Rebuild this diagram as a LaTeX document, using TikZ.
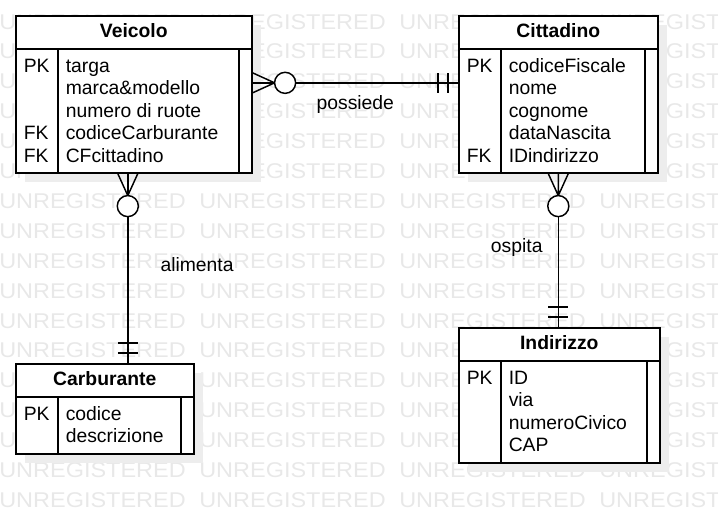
\documentclass[tikz,border=0pt]{standalone}
\usepackage{fontspec}
\setmainfont{Liberation Sans}
\usetikzlibrary{calc}

\tikzset{
  entitybox/.style={draw=black, line width=1.2pt, fill=white, inner sep=0pt, anchor=north west},
  entityline/.style={draw=black, line width=1.2pt},
  shadowbox/.style={fill=black!7},
  rel/.style={draw=black, line width=1.1pt},
  rellabel/.style={inner sep=0pt},
  watermark/.style={font=\fontsize{16pt}{18pt}\selectfont, text=black!9, inner sep=0pt,
    anchor=west, xscale=1.1, transform shape},
  zeromany/.pic={
    \draw[rel] (0,-10) -- (22,0) -- (0,10) (0,0) -- (22,0);
    \draw[rel, fill=white] (32.5,0) circle[radius=7.9pt];
  },
  onlyone/.pic={
    \draw[rel] (10,-10) -- (10,10) (20,-10) -- (20,10);
  }
}

% #1 name, #2 corner, #3 width, #4 height, #5 title, #6 key/attribute rows
\newcommand{\erentity}[6]{%
  \fill[shadowbox] ($(#2)+(10,10)$) rectangle ++(#3,#4);
  \node[entitybox, minimum width=#3*0.75pt, minimum height=#4*0.75pt] (#1) at (#2) {};
  \draw[entityline] ($(#1.north west)+(0,34)$) -- ($(#1.north east)+(0,34)$);
  \draw[entityline] ($(#1.north west)+(43,34)$) -- ($(#1.south west)+(43,0)$);
  \draw[entityline] ($(#1.north east)+(-13.5,34)$) -- ($(#1.south east)+(-13.5,0)$);
  \node[anchor=base, inner sep=0pt] at ($(#1.north)+(0,22)$) {\textbf{#5}};
  \foreach \k/\a [count=\i from 0] in {#6} {
    \node[anchor=base west, inner sep=0pt] at ($(#1.north west)+(8.5,57+22.5*\i)$) {\k};
    \node[anchor=base west, inner sep=0pt] at ($(#1.north west)+(50.5,57+22.5*\i)$) {\a};
  }
}

\begin{document}
\begin{tikzpicture}[x=0.75pt, y=-0.75pt, font=\fontsize{14.5pt}{17pt}\selectfont]
  \useasboundingbox (0,0) rectangle (718,522);
  \clip (0,0) rectangle (718,522);

  % watermark
  \foreach \r in {0,...,16}
    \foreach \c in {0,...,3}
      \node[watermark] at (-1+200*\c, 21.7+29.9*\r) {UNREGISTERED};

  % tables
  \erentity{veicolo}{15,15}{236}{157}{Veicolo}{PK/targa, /marca\&modello, /numero di ruote, FK/codiceCarburante, FK/CFcittadino}
  \erentity{cittadino}{458,15}{199}{157}{Cittadino}{PK/codiceFiscale, /nome, /cognome, /dataNascita, FK/IDindirizzo}
  \erentity{carburante}{15,363}{178}{90}{Carburante}{PK/codice, /descrizione}
  \erentity{indirizzo}{458,327}{201}{135}{Indirizzo}{PK/ID, /via, /numeroCivico, /CAP}

  % relations
  \draw[rel] ([yshift=8.6pt]veicolo.east) -- ([yshift=8.6pt]cittadino.west)
    node[rellabel, pos=0.5, anchor=base, yshift=-20.25pt] {possiede};
  \draw[rel] ([xshift=-4.5pt]veicolo.south) -- ([xshift=-4.5pt]veicolo.south |- carburante.north)
    node[rellabel, pos=0.5, anchor=base west, xshift=24pt, yshift=-2.4pt] {alimenta};
  \draw[rel] (cittadino.south) -- (cittadino.south |- indirizzo.north)
    node[rellabel, pos=0.5, anchor=base east, xshift=-11.25pt, yshift=-1.9pt] {ospita};

  \pic at ([yshift=8.6pt]veicolo.east) {zeromany};
  \pic[rotate=180] at ([yshift=8.6pt]cittadino.west) {onlyone};
  \pic[rotate=-90] at ([xshift=-4.5pt]veicolo.south) {zeromany};
  \pic[rotate=90] at ([xshift=-4.5pt]veicolo.south |- carburante.north) {onlyone};
  \pic[rotate=-90] at (cittadino.south) {zeromany};
  \pic[rotate=90] at (cittadino.south |- indirizzo.north) {onlyone};
\end{tikzpicture}
\end{document}
